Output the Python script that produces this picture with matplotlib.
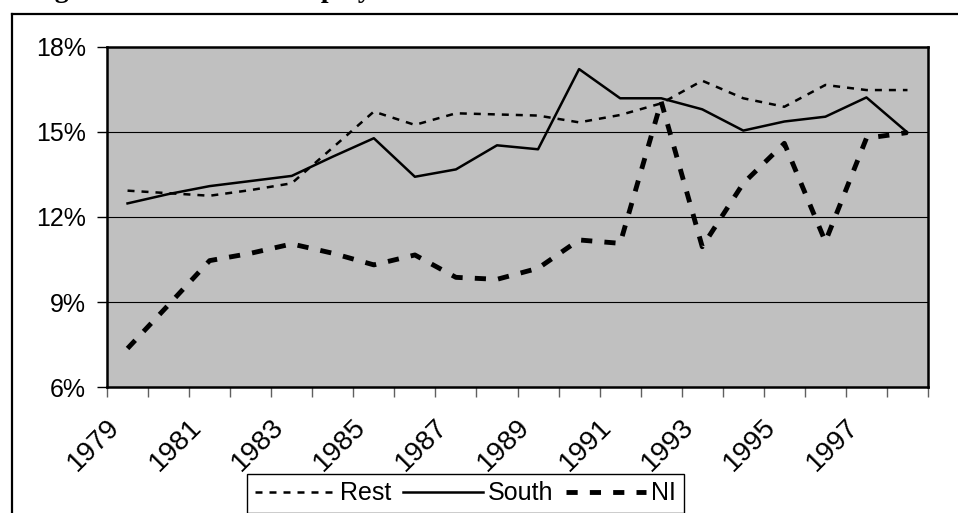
"""Unemployment rates by region, 1979-1998."""

import matplotlib
matplotlib.use("Agg")
import matplotlib.pyplot as plt
from matplotlib.lines import Line2D
from matplotlib.ticker import FixedLocator, FuncFormatter, NullFormatter
from matplotlib.transforms import ScaledTranslation, blended_transform_factory

plt.rcParams.update(
    {
        "font.family": ["Liberation Sans", "DejaVu Sans"],
        "font.size": 18,
    }
)

years = list(range(1979, 1999))
rest = [12.93, 12.84, 12.75, 12.95, 13.19, 14.45, 15.72, 15.25, 15.66, 15.62,
        15.58, 15.34, 15.60, 16.01, 16.81, 16.19, 15.89, 16.66, 16.48, 16.48]
south = [12.48, 12.81, 13.09, 13.27, 13.45, 14.13, 14.78, 13.42, 13.68, 14.53,
         14.39, 17.22, 16.19, 16.19, 15.80, 15.05, 15.37, 15.54, 16.22, 14.98]
ni = [7.36, 8.90, 10.46, 10.72, 11.05, 10.72, 10.31, 10.66, 9.87, 9.80,
      10.19, 11.19, 11.07, 16.07, 10.95, 13.19, 14.60, 11.13, 14.78, 14.98]
y_ticks = [6, 9, 12, 15, 18]
title = "Figure 2: Relative Unemployment Rates"

BG_GREY = "#C0C0C0"

fig = plt.figure(figsize=(9.58, 5.13), dpi=100)
ax = fig.add_axes([0.1117, 0.2456, 0.857, 0.6628])
ax.set_facecolor(BG_GREY)

x = [i + 0.5 for i in range(len(years))]
ax.plot(x, rest, color="black", lw=1.8, ls=(0, (2.8, 2.8)), label="Rest")
ax.plot(x, south, color="black", lw=1.8, label="South")
ax.plot(x, ni, color="black", lw=3.5, ls=(0, (2.3, 2.5)),
        dash_capstyle="butt", label="NI")

ax.set_xlim(0, len(years))
ax.set_ylim(6, 18)

# horizontal gridlines
for v in y_ticks[1:-1]:
    ax.axhline(v, color="black", lw=0.8, zorder=1)

for sp in ax.spines.values():
    sp.set_linewidth(1.8)
    sp.set_color("black")

# y axis
ax.set_yticks(y_ticks)
ax.yaxis.set_major_formatter(FuncFormatter(lambda v, _: f"{v:.0f}%"))
ax.tick_params(axis="y", length=7, width=1, pad=8, labelsize=18)

# x axis: tick marks between categories, rotated labels every second year
ax.xaxis.set_major_locator(FixedLocator(range(len(years) + 1)))
ax.xaxis.set_major_formatter(NullFormatter())
ax.tick_params(axis="x", which="major", length=7, width=1, color="#606060")
lab_trans = blended_transform_factory(ax.transData, ax.transAxes) + \
    ScaledTranslation(-34 / 100, -58 / 100, fig.dpi_scale_trans)
for xi, yr in zip(x[::2], years[::2]):
    ax.text(xi, 0, str(yr), transform=lab_trans, fontsize=20, rotation=45,
            ha="center", va="center", rotation_mode="anchor", clip_on=False)

leg = ax.legend(
    loc="upper left",
    bbox_to_anchor=(247 / 958, 1 - 474 / 513),
    bbox_transform=fig.transFigure,
    ncol=3,
    frameon=True,
    fancybox=False,
    edgecolor="black",
    framealpha=1,
    fontsize=18,
    handlelength=3.2,
    handletextpad=0.2,
    columnspacing=0.5,
    borderpad=0.3,
    borderaxespad=0,
)
leg.get_frame().set_linewidth(1.0)

# outer chart frame (left and top edges)
fig.add_artist(Line2D([12 / 958, 12 / 958], [0, 1 - 14 / 513],
                      transform=fig.transFigure, color="black", lw=1.6))
fig.add_artist(Line2D([12 / 958, 1], [1 - 14 / 513, 1 - 14 / 513],
                      transform=fig.transFigure, color="black", lw=1.6))

# heading above the frame, only its lower edge falls inside the figure
fig.text(30 / 958, 1 + 3 / 513, title, fontsize=20, fontweight="bold",
         family=["Liberation Serif", "DejaVu Serif"], va="baseline")

fig.savefig("out.png", dpi=100)
